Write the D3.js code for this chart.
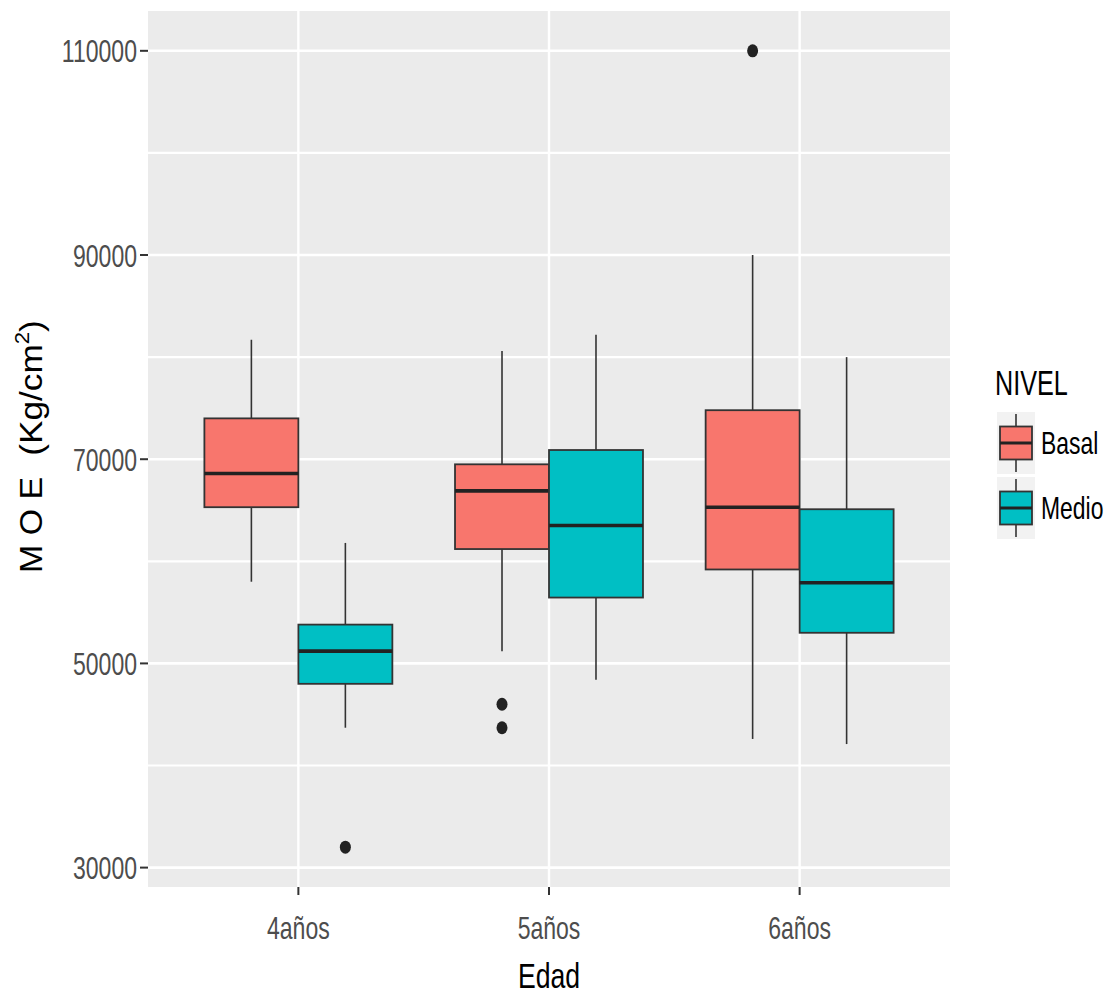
<!DOCTYPE html>
<html>
<head>
<meta charset="utf-8">
<script src="https://cdn.jsdelivr.net/npm/d3@7/dist/d3.min.js"></script>
<style>
  html, body { margin: 0; padding: 0; background: #ffffff; }
  svg { display: block; }
  text { font-family: "Liberation Sans", Arial, sans-serif; }
</style>
</head>
<body>
<svg id="chart" width="1110" height="998"></svg>
<script>
// Edad groups and NIVEL levels
const categories = ["4años", "5años", "6años"];
const niveles = ["Basal", "Medio"];
const nivelColors = ["#F8766D", "#00BFC4"];

// Boxplot summaries (Kg/cm²), one value per Edad group
const basalLower  = [58000, 51200, 42600];
const basalQ1     = [65300, 61200, 59200];
const basalMedian = [68600, 66900, 65300];
const basalQ3     = [74000, 69500, 74800];
const basalUpper  = [81700, 80600, 90000];
const basalOutliers = [[], [46000, 43700], [110000]];

const medioLower  = [43700, 48400, 42100];
const medioQ1     = [48000, 56450, 53000];
const medioMedian = [51200, 63500, 57900];
const medioQ3     = [53800, 70900, 65100];
const medioUpper  = [61800, 82200, 80000];
const medioOutliers = [[32000], [], []];

// Axis ticks
const yMajorTicks = [30000, 50000, 70000, 90000, 110000];
const yMinorTicks = [40000, 60000, 80000, 100000];

// Assemble box records
const boxes = [];
categories.forEach((c, i) => {
  boxes.push({ cat: c, nivel: "Basal", lower: basalLower[i], q1: basalQ1[i], median: basalMedian[i],
               q3: basalQ3[i], upper: basalUpper[i], outliers: basalOutliers[i] });
  boxes.push({ cat: c, nivel: "Medio", lower: medioLower[i], q1: medioQ1[i], median: medioMedian[i],
               q3: medioQ3[i], upper: medioUpper[i], outliers: medioOutliers[i] });
});

const svg = d3.select("#chart");

// Panel area
const panel = { left: 148, right: 950, top: 11, bottom: 887 };

// Y domain: data extent with 5% expansion on each side
const allVals = boxes.flatMap(b => [b.lower, b.upper, ...b.outliers]);
const vMin = d3.min(allVals), vMax = d3.max(allVals);
const pad = (vMax - vMin) * 0.05;
const y = d3.scaleLinear().domain([vMin - pad, vMax + pad]).range([panel.bottom, panel.top]);

const x = d3.scalePoint().domain(categories).range([panel.left, panel.right]).padding(0.6);
const step = x.step();
const dodge = d3.scaleBand().domain(niveles).range([-0.375 * step, 0.375 * step]);
const color = d3.scaleOrdinal().domain(niveles).range(nivelColors);

// Panel background
svg.append("rect")
  .attr("x", panel.left).attr("y", panel.top)
  .attr("width", panel.right - panel.left).attr("height", panel.bottom - panel.top)
  .attr("fill", "#EBEBEB");

const grid = svg.append("g");
grid.selectAll("line.minor").data(yMinorTicks).join("line")
  .attr("x1", panel.left).attr("x2", panel.right)
  .attr("y1", d => y(d)).attr("y2", d => y(d))
  .attr("stroke", "#ffffff").attr("stroke-width", 2.2);
grid.selectAll("line.major").data(yMajorTicks).join("line")
  .attr("x1", panel.left).attr("x2", panel.right)
  .attr("y1", d => y(d)).attr("y2", d => y(d))
  .attr("stroke", "#ffffff").attr("stroke-width", 2.6);
grid.selectAll("line.vmajor").data(categories).join("line")
  .attr("x1", d => x(d)).attr("x2", d => x(d))
  .attr("y1", panel.top).attr("y2", panel.bottom)
  .attr("stroke", "#ffffff").attr("stroke-width", 2.4);

// Boxes
const ink = "#333333";
const bw = dodge.bandwidth();
const g = svg.append("g");
boxes.forEach(b => {
  const x0 = x(b.cat) + dodge(b.nivel);
  const xc = x0 + bw / 2;
  g.append("line").attr("x1", xc).attr("x2", xc).attr("y1", y(b.upper)).attr("y2", y(b.q3))
    .attr("stroke", ink).attr("stroke-width", 1.6);
  g.append("line").attr("x1", xc).attr("x2", xc).attr("y1", y(b.q1)).attr("y2", y(b.lower))
    .attr("stroke", ink).attr("stroke-width", 1.6);
  g.append("rect").attr("x", x0).attr("width", bw)
    .attr("y", y(b.q3)).attr("height", y(b.q1) - y(b.q3))
    .attr("fill", color(b.nivel)).attr("stroke", ink).attr("stroke-width", 1.8);
  g.append("line").attr("x1", x0).attr("x2", x0 + bw).attr("y1", y(b.median)).attr("y2", y(b.median))
    .attr("stroke", "#222222").attr("stroke-width", 3.6);
  b.outliers.forEach(o => {
    g.append("ellipse").attr("cx", xc).attr("cy", y(o)).attr("rx", 5.5).attr("ry", 6.5)
      .attr("fill", "#222222");
  });
});

// Axes: ticks and labels
const tickInk = "#333333";
const labelInk = "#4D4D4D";
const yAxis = svg.append("g");
yMajorTicks.forEach(t => {
  yAxis.append("line").attr("x1", 140).attr("x2", panel.left).attr("y1", y(t)).attr("y2", y(t))
    .attr("stroke", tickInk).attr("stroke-width", 2);
  yAxis.append("text")
    .attr("transform", `translate(137,${y(t) + 11.5}) scale(0.72,1)`)
    .attr("text-anchor", "end").attr("font-size", 32).attr("fill", labelInk)
    .text(t);
});
const xAxis = svg.append("g");
categories.forEach(c => {
  xAxis.append("line").attr("x1", x(c)).attr("x2", x(c)).attr("y1", panel.bottom).attr("y2", panel.bottom + 8)
    .attr("stroke", tickInk).attr("stroke-width", 2);
  xAxis.append("text")
    .attr("transform", `translate(${x(c)},939) scale(0.72,1)`)
    .attr("text-anchor", "middle").attr("font-size", 32).attr("fill", labelInk)
    .text(c);
});

// Axis titles
svg.append("text")
  .attr("transform", `translate(${(panel.left + panel.right) / 2},988) scale(0.74,1)`)
  .attr("text-anchor", "middle").attr("font-size", 36).attr("fill", "#000")
  .text("Edad");

svg.append("text")
  .attr("transform", "translate(42,525) rotate(-90) scale(1.06,1)")
  .attr("text-anchor", "middle").attr("font-size", 32).attr("fill", "#000")
  .text("M O E");
const unit = svg.append("text")
  .attr("transform", "translate(42,388) rotate(-90) scale(1.1,1)")
  .attr("text-anchor", "middle").attr("font-size", 32).attr("fill", "#000");
unit.append("tspan").text("(Kg/cm");
unit.append("tspan").attr("font-size", 20).attr("dy", -13).text("2");
unit.append("tspan").attr("dy", 13).text(")");

// Legend
const legend = svg.append("g");
legend.append("text")
  .attr("transform", "translate(995,395) scale(0.7,1)")
  .attr("font-size", 36).attr("fill", "#000").text("NIVEL");
niveles.forEach((n, i) => {
  const top = 412 + i * 65;
  const kx = 997, kw = 38, kh = 62;
  const cx = kx + kw / 2, cy = top + kh / 2;
  legend.append("rect").attr("x", kx).attr("y", top).attr("width", kw).attr("height", kh).attr("fill", "#F2F2F2");
  legend.append("line").attr("x1", cx).attr("x2", cx).attr("y1", top + 2).attr("y2", top + kh - 2)
    .attr("stroke", ink).attr("stroke-width", 1.6);
  legend.append("rect").attr("x", kx + 3).attr("y", cy - 16.5).attr("width", kw - 6).attr("height", 33)
    .attr("fill", color(n)).attr("stroke", ink).attr("stroke-width", 1.8);
  legend.append("line").attr("x1", kx + 3).attr("x2", kx + kw - 3).attr("y1", cy).attr("y2", cy)
    .attr("stroke", "#222222").attr("stroke-width", 3);
  legend.append("text")
    .attr("transform", `translate(1041,${cy + 11}) scale(0.74,1)`)
    .attr("font-size", 31).attr("fill", "#000").text(n);
});
</script>
</body>
</html>
